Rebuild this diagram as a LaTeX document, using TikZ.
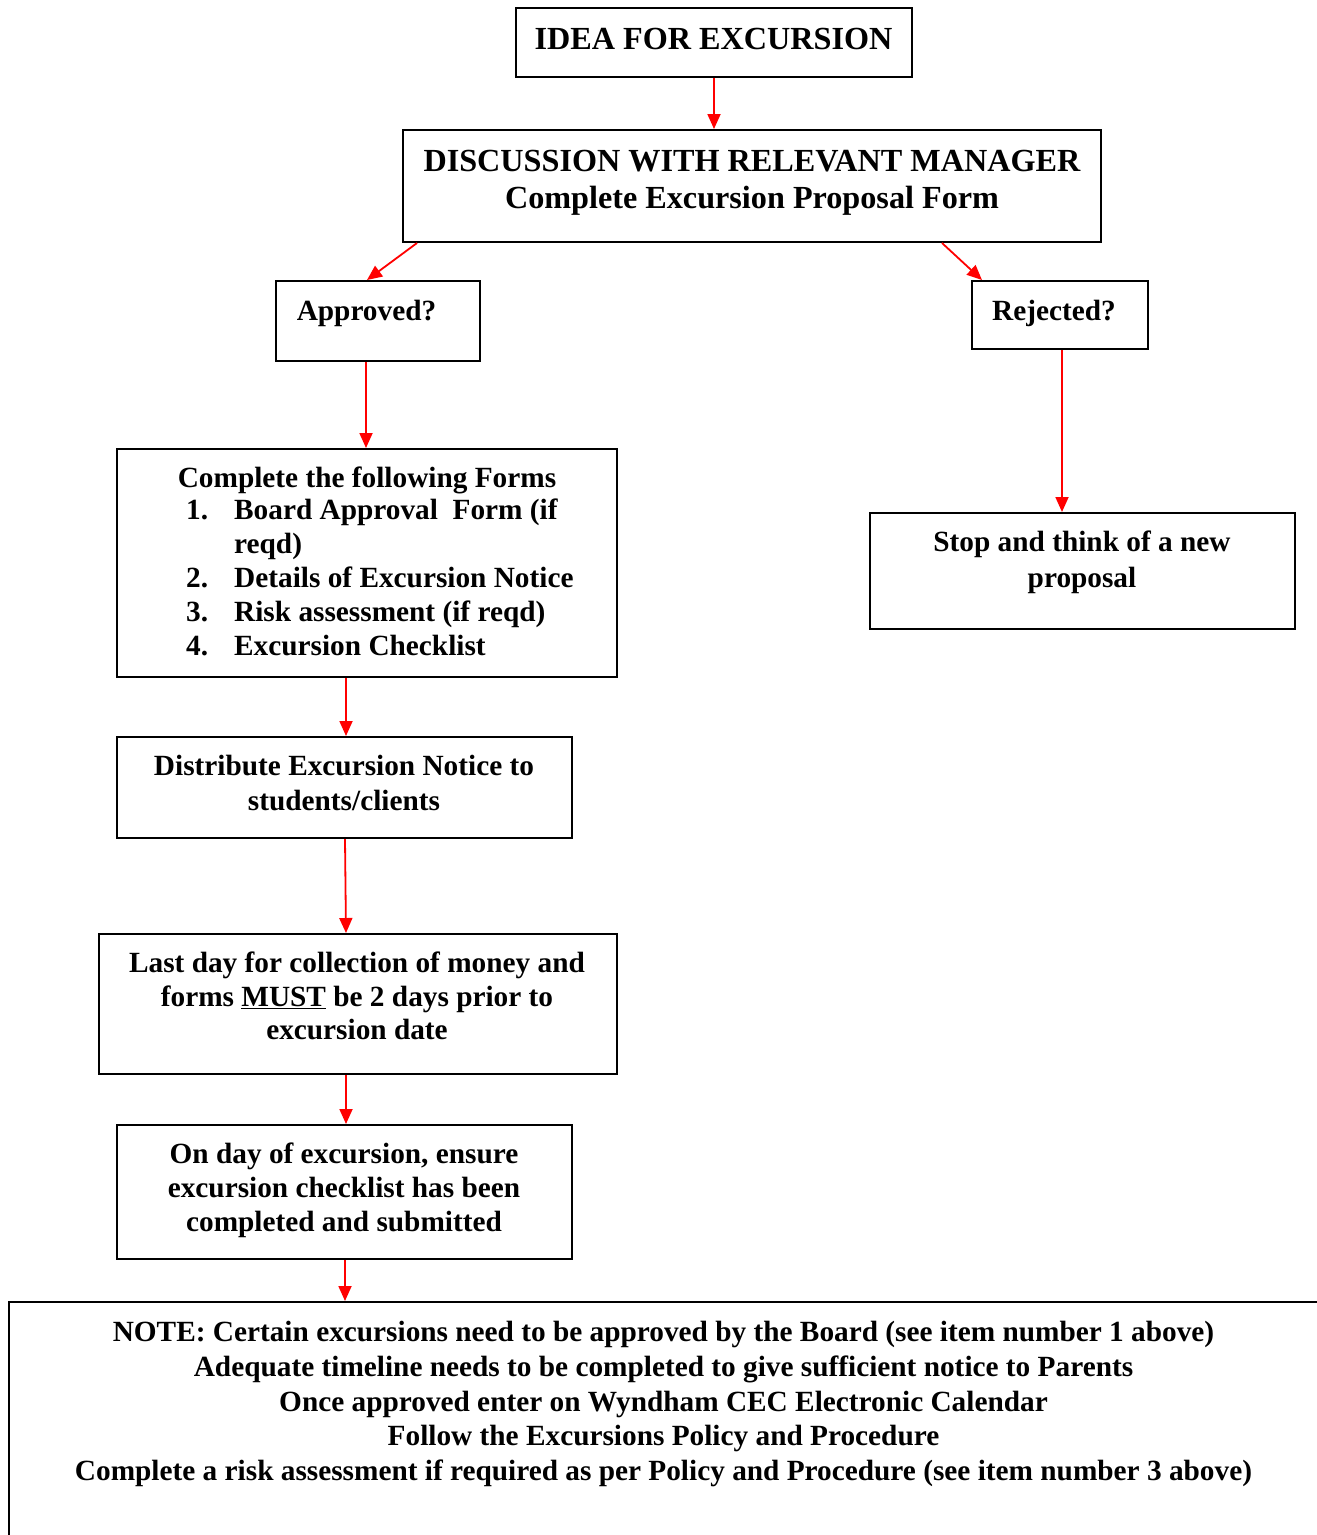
\documentclass[tikz,border=0pt]{standalone}
\usepackage{fontspec}
\setmainfont{Liberation Serif}
\usetikzlibrary{arrows.meta,calc}
\begin{document}
\begin{tikzpicture}[x=1pt,y=-1pt,
  box/.style={draw=black,line width=2pt,inner sep=0pt},
  txt/.style={inner sep=0pt,align=center,font=\fontsize{29.3}{34}\selectfont\bfseries},
  big/.style={font=\fontsize{32.2}{37}\selectfont\bfseries},
  arr/.style={draw=red,line width=1.8pt,-{Triangle[length=15pt,width=13pt]}}]
\useasboundingbox (0,0) rectangle (1317,1535);
% boxes
\node[box,minimum width=396pt,minimum height=69pt] (idea) at (714,42.5) {};
\node[box,minimum width=698pt,minimum height=112pt] (disc) at (752,186) {};
\node[box,minimum width=204pt,minimum height=80pt] (appr) at (378,321) {};
\node[box,minimum width=176pt,minimum height=68pt] (rej) at (1060,315) {};
\node[box,minimum width=500pt,minimum height=228pt] (forms) at (367,563) {};
\node[box,minimum width=425pt,minimum height=116pt] (stop) at (1082.5,571) {};
\node[box,minimum width=455pt,minimum height=101pt] (dist) at (344.5,787.5) {};
\node[box,minimum width=518pt,minimum height=140pt] (last) at (358,1004) {};
\node[box,minimum width=455pt,minimum height=134pt] (onday) at (344.5,1192) {};
\node[box,minimum width=1351pt,minimum height=278pt] (note) at (684.5,1441) {};
% texts
\node[txt,big] (tidea) at (713.5,38.5) {IDEA FOR EXCURSION};
\node[txt,big] (tdisc) at (752,182.5) {DISCUSSION WITH RELEVANT MANAGER\\Complete Excursion Proposal Form};
\node[txt] (tappr) at (366.5,313.5) {Approved?};
\node[txt] (trej) at (1054,313.5) {Rejected?};
\node[txt] (tforms) at (367,480.5) {Complete the following Forms};
\node[txt,align=left,anchor=west] (tlist) at (186,577.5) {\makebox[48pt][l]{1.}Board Approval\ \ Form (if\\\makebox[48pt][l]{}reqd)\\\makebox[48pt][l]{2.}Details of Excursion Notice\\\makebox[48pt][l]{3.}Risk assessment (if reqd)\\\makebox[48pt][l]{4.}Excursion Checklist};
\node[txt,font=\fontsize{29.3}{36}\selectfont\bfseries] (tstop) at (1082,562.5) {Stop and think of a new\\proposal};
\node[txt,font=\fontsize{29.3}{35}\selectfont\bfseries] (tdist) at (344,783) {Distribute Excursion Notice to\\students/clients};
\node[txt,font=\fontsize{29.3}{33.5}\selectfont\bfseries] (tlast) at (357,996) {Last day for collection of money and\\forms \underline{MUST} be 2 days prior to\\excursion date};
\node[txt] (tonday) at (344,1190.5) {On day of excursion, ensure\\excursion checklist has been\\completed and submitted};
\node[txt,font=\fontsize{29.3}{34.75}\selectfont\bfseries] (tnote) at (663.5,1404) {NOTE: Certain excursions need to be approved by the Board (see item number 1 above)\\Adequate timeline needs to be completed to give sufficient notice to Parents\\Once approved enter on Wyndham CEC Electronic Calendar\\Follow the Excursions Policy and Procedure\\Complete a risk assessment if required as per Policy and Procedure (see item number 3 above)};
% connectors
\draw[arr] (idea.south) -- (idea.south |- disc.north);
\draw[arr] ($(disc.south west)+(15,0)$) -- ($(appr.north)+(-11,0)$);
\draw[arr] ($(disc.south east)+(-160,0)$) -- ($(rej.north west)+(11,0)$);
\draw[arr] ($(appr.south)+(-12,0)$) coordinate (a1) -- (a1 |- forms.north);
\draw[arr] ($(rej.south)+(2,0)$) coordinate (a2) -- (a2 |- stop.north);
\draw[arr] ($(forms.south)+(-21,0)$) coordinate (a3) -- (a3 |- dist.north);
\draw[arr] ($(dist.south)+(0.5,0)$) -- ($(last.north)+(-12,0)$);
\draw[arr] ($(last.south)+(-12,0)$) coordinate (a4) -- (a4 |- onday.north);
\draw[arr] ($(onday.south)+(0.5,0)$) coordinate (a5) -- (a5 |- note.north);
\end{tikzpicture}
\end{document}
